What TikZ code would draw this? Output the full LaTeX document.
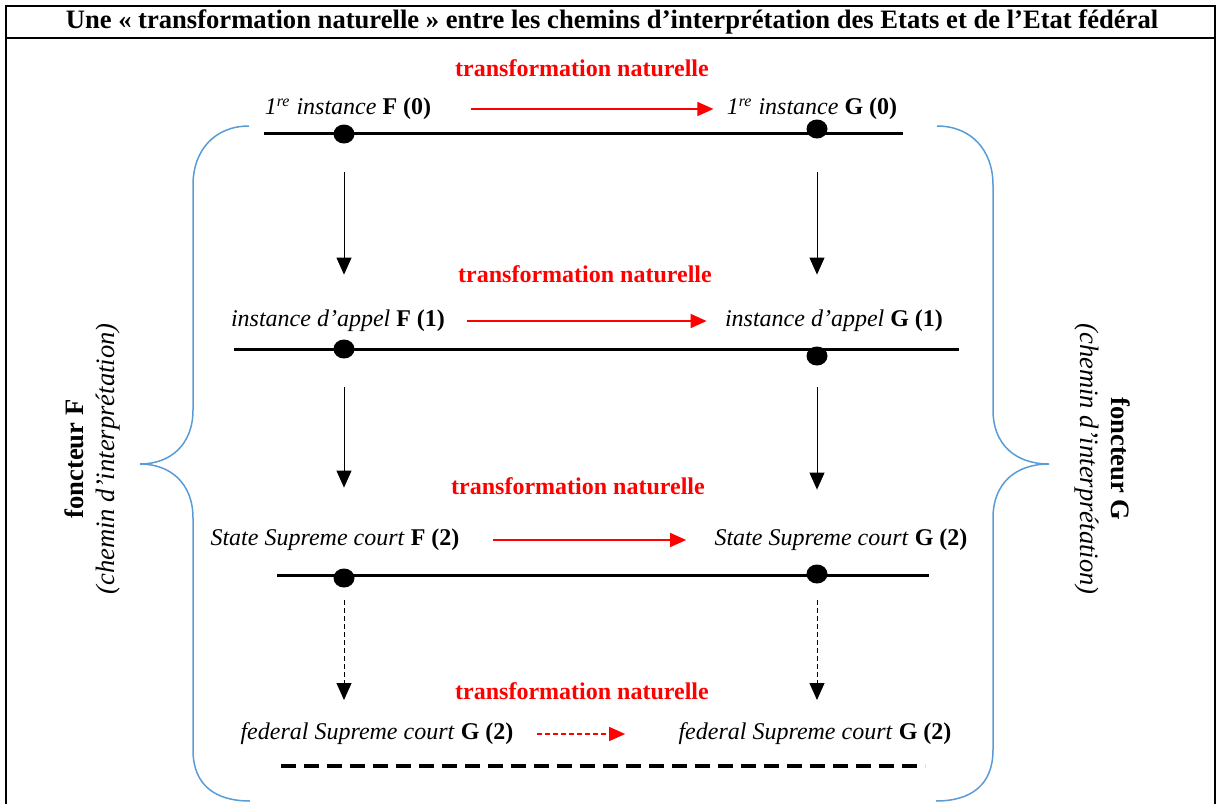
\documentclass[tikz,border=0pt]{standalone}
\usepackage{fontspec}
\setmainfont{Liberation Serif}
\usetikzlibrary{arrows.meta,shapes.geometric}
\definecolor{braceblue}{RGB}{91,155,213}
\definecolor{tred}{RGB}{255,0,0}
\begin{document}
\begin{tikzpicture}[x=0.5pt,y=-0.5pt,
  lbl/.style={inner sep=0pt, font=\fontsize{12}{14}\selectfont},
  redlbl/.style={inner sep=0pt, font=\fontsize{12}{14}\selectfont\bfseries, text=tred},
  sidelbl/.style={inner sep=0pt, align=center, font=\fontsize{13.3}{15.5}\selectfont},
  dotnode/.style={ellipse, fill=black, minimum width=10.5pt, minimum height=9.5pt, inner sep=0pt},
  axisline/.style={line width=1.5pt},
  varrow/.style={line width=0.5pt, -{Triangle[length=8.5pt,width=7.5pt]}},
  vdarrow/.style={varrow, dash pattern=on 2.5pt off 1.5pt},
  harrow/.style={draw=tred, line width=0.75pt, -{Triangle[length=8pt,width=7pt]}},
  hdarrow/.style={harrow, dash pattern=on 2.5pt off 1.5pt},
  bracestyle/.style={draw=braceblue, line width=0.75pt},
  framestyle/.style={line width=1pt}]
\useasboundingbox (0,0) rectangle (1223,804);

% frame and title
\draw[framestyle] (6,804) -- (6,6) -- (1215,6) -- (1215,804);
\draw[framestyle] (6,38) -- (1215,38);
\node[lbl, font=\fontsize{13.3}{15}\selectfont\bfseries] (title) at (612,22)
  {Une~« transformation naturelle »~entre les chemins d’interprétation des Etats et de l’Etat fédéral};

% red titles
\node[redlbl] (t0) at (582,68) {transformation naturelle};
\node[redlbl] (t1) at (585,274) {transformation naturelle};
\node[redlbl] (t2) at (578,486) {transformation naturelle};
\node[redlbl] (t3) at (582,691) {transformation naturelle};

% labels
\node[lbl] (f0) at (348,109) {\textit{1\textsuperscript{re} instance} \textbf{F (0)}};
\node[lbl] (g0) at (812,109) {\textit{1\textsuperscript{re} instance} \textbf{G (0)}};
\node[lbl] (f1) at (338,321) {\textit{instance d’appel} \textbf{F (1)}};
\node[lbl] (g1) at (834,321) {\textit{instance d’appel} \textbf{G (1)}};
\node[lbl] (f2) at (335,540) {\textit{State Supreme court} \textbf{F (2)}};
\node[lbl] (g2) at (841,540) {\textit{State Supreme court} \textbf{G (2)}};
\node[lbl] (f3) at (377,734) {\textit{federal Supreme court} \textbf{G (2)}};
\node[lbl] (g3) at (815,734) {\textit{federal Supreme court} \textbf{G (2)}};

% horizontal axes
\coordinate (a0s) at (264,133); \coordinate (a0e) at (903,133);
\coordinate (a1s) at (234,349); \coordinate (a1e) at (959,349);
\coordinate (a2s) at (277,575); \coordinate (a2e) at (929,575);
\coordinate (a3s) at (281,766); \coordinate (a3e) at (925,766);
\draw[axisline] (a0s) -- (a0e);
\draw[axisline] (a1s) -- (a1e);
\draw[axisline] (a2s) -- (a2e);
\draw[axisline, line width=1.7pt, dash pattern=on 7.3pt off 4.2pt] (a3s) -- (a3e);

% dots
\node[dotnode] (d0F) at (344,134) {};
\node[dotnode] (d0G) at (817,129) {};
\node[dotnode] (d1F) at (344,349) {};
\node[dotnode] (d1G) at (817,356) {};
\node[dotnode] (d2F) at (344,578) {};
\node[dotnode] (d2G) at (817,574) {};
\coordinate (e3F) at (344,700);
\coordinate (e3G) at (817,700);

% vertical arrows
\draw[varrow, shorten <=14.25pt, shorten >=32.25pt] (d0F) -- (d1F);
\draw[varrow, shorten <=16.75pt, shorten >=35.75pt] (d0G) -- (d1G);
\draw[varrow, shorten <=14.25pt, shorten >=40.25pt] (d1F) -- (d2F);
\draw[varrow, shorten <=10.75pt, shorten >=37.25pt] (d1G) -- (d2G);
\draw[vdarrow, shorten <=6.25pt] (d2F) -- (e3F);
\draw[vdarrow, shorten <=8.25pt] (d2G) -- (e3G);

% red horizontal arrows
\draw[harrow, shorten <=19.5pt, shorten >=6.5pt] (f0.east) -- (g0.west);
\draw[harrow, shorten <=11pt, shorten >=9pt] (f1.east) -- (g1.west);
\draw[harrow, shorten <=16.5pt, shorten >=14pt] (f2.east) -- (g2.west);
\draw[hdarrow, shorten <=11.5pt, shorten >=26.5pt] (f3.east) -- (g3.west);

% braces
\draw[bracestyle] (249,126) .. controls (215,126) and (193,150) .. (193,185)
  -- (193,410) .. controls (193,445) and (170,464) .. (140,464)
  .. controls (170,464) and (193,483) .. (193,518)
  -- (193,750) .. controls (193,785) and (215,801) .. (250,801);
\draw[bracestyle] (937,126) .. controls (971,126) and (993,150) .. (993,185)
  -- (993,410) .. controls (993,445) and (1016,464) .. (1049,464)
  .. controls (1016,464) and (993,483) .. (993,518)
  -- (993,750) .. controls (993,785) and (971,801) .. (936,801);

% side labels
\node[sidelbl, rotate=90] (sideF) at (92,459) {\textbf{foncteur F}\\\textit{(chemin d’interprétation)}};
\node[sidelbl, rotate=-90] (sideG) at (1103,459) {\textbf{foncteur G}\\\textit{(chemin d’interprétation)}};
\end{tikzpicture}
\end{document}
